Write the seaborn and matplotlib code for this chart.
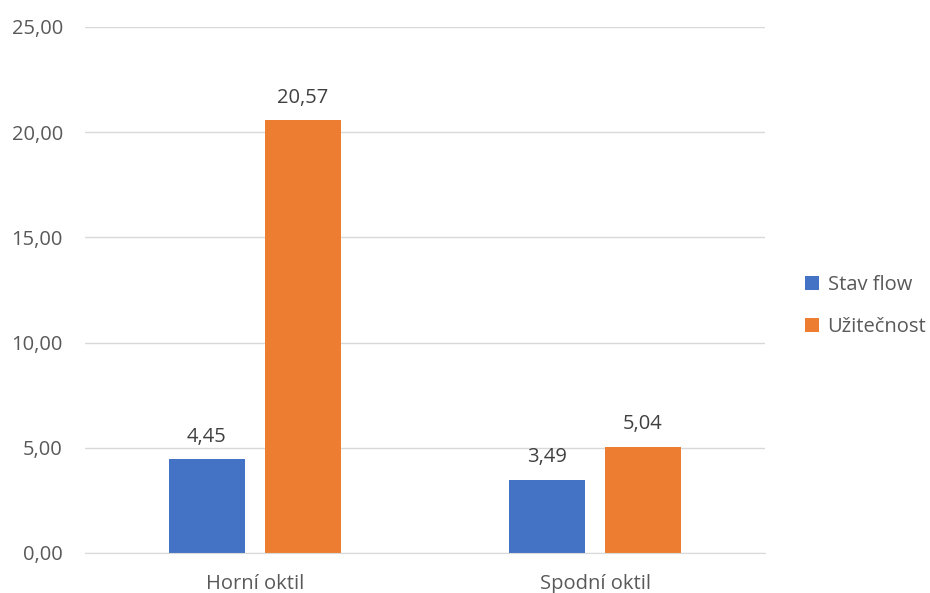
import pandas as pd
import matplotlib.pyplot as plt
import seaborn as sns

categories = ['Horní oktil', 'Spodní oktil']
series = ['Stav flow', 'Užitečnost']
stav_flow = [4.45, 3.49]
uzitecnost = [20.57, 5.04]
y_ticks = [0, 5, 10, 15, 20, 25]

df = pd.DataFrame({
    'kategorie': categories * 2,
    'serie': [series[0]] * 2 + [series[1]] * 2,
    'hodnota': stav_flow + uzitecnost,
})

sns.set_style('white')
plt.rcParams['font.family'] = ['Open Sans', 'DejaVu Sans']
fs = 14.5

fig = plt.figure(figsize=(9.3, 5.93), dpi=100)
ax = fig.add_axes([0.0914, 0.0675, 0.7312, 0.887])

sns.barplot(data=df, x='kategorie', y='hodnota', hue='serie',
            palette=['#4472C4', '#ED7D31'], width=0.565, gap=0.2,
            ax=ax, errorbar=None, saturation=1, linewidth=0)

for cont in ax.containers:
    ax.bar_label(cont, labels=[f'{v:.2f}'.replace('.', ',') for v in cont.datavalues],
                 padding=9, fontsize=fs, color='#404040')

ax.set_ylim(0, 25)
ax.set_yticks(y_ticks)
ax.set_yticklabels([f'{v:.2f}'.replace('.', ',') for v in y_ticks], fontsize=fs, color='#595959')
ax.tick_params(axis='x', labelsize=fs, labelcolor='#595959', length=0, pad=15)
ax.tick_params(axis='y', length=0, pad=16)
ax.yaxis.grid(True, color='#D9D9D9', linewidth=1)
ax.set_axisbelow(True)
for s in ['top', 'right', 'left']:
    ax.spines[s].set_visible(False)
ax.spines['bottom'].set_color('#D9D9D9')
ax.set_xlabel('')
ax.set_ylabel('')

ax.legend(loc='center left', bbox_to_anchor=(0.866, 0.484), bbox_transform=fig.transFigure,
          frameon=False, fontsize=fs, handlelength=0.7, handleheight=0.7,
          labelspacing=1.1, handletextpad=0.4, borderpad=0, borderaxespad=0,
          labelcolor='#595959')

fig.savefig('out.png', dpi=100)
